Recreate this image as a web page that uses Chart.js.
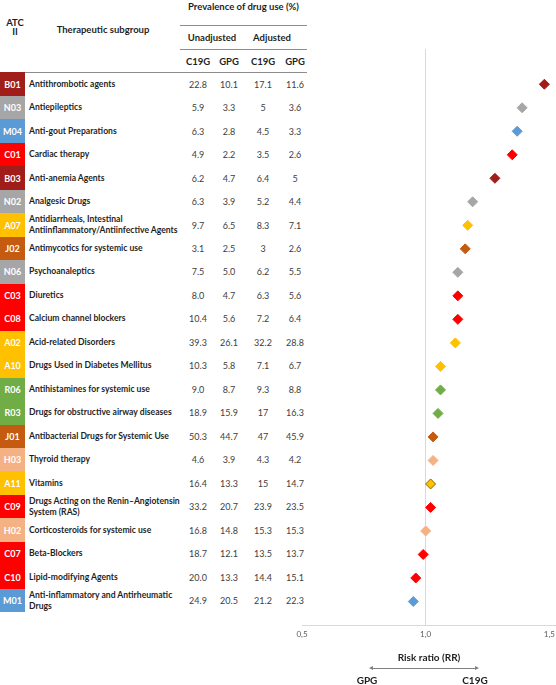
<!DOCTYPE html>
<html>
<head>
<meta charset="utf-8">
<script src="https://cdn.jsdelivr.net/npm/chart.js"></script>
<style>
  body { margin: 0; width: 556px; height: 685px; position: relative; background: #fff; overflow: hidden;
         font-family: Lato, "Open Sans", sans-serif; color: #1f1f1f; }
  .abs { position: absolute; }
  .hd { position: absolute; font-weight: bold; font-size: 9.5px; text-align: center; white-space: nowrap; }
  .line { position: absolute; height: 0; border-top: 1px solid #8c8c8c; }
  .row { position: absolute; left: 0; width: 310px; }
  .code { position: absolute; left: 0; top: 0; width: 25px; height: 100%; color: #fff; font-weight: bold;
          font-size: 9px; display: flex; align-items: center; justify-content: center; }
  .name { position: absolute; left: 29px; top: 0; height: 100%; display: flex; align-items: center;
          font-weight: bold; font-size: 8.6px; line-height: 11px; white-space: pre; }
  .val { position: absolute; top: 0; width: 34px; height: 100%; display: flex; align-items: center;
         justify-content: center; font-size: 9px; color: #404040; }
  #chartBox { position: absolute; left: 290px; top: 43px; width: 272px; height: 642px; }
</style>
</head>
<body>
<div class="hd" style="left:0;width:30px;top:18px;line-height:9px;">ATC<br>II</div>
<div class="hd" style="left:43px;width:120px;top:24px;">Therapeutic subgroup</div>
<div class="hd" style="left:180px;width:127px;top:1px;">Prevalence of drug use (%)</div>
<div class="line" style="left:180px;width:127px;top:25px;"></div>
<div class="hd" style="left:182px;width:60px;top:32px;">Unadjusted</div>
<div class="hd" style="left:244px;width:56px;top:32px;">Adjusted</div>
<div class="line" style="left:180px;width:127px;top:49px;"></div>
<div class="hd" style="left:181px;width:34px;top:56px;">C19G</div>
<div class="hd" style="left:212px;width:34px;top:56px;">GPG</div>
<div class="hd" style="left:246px;width:34px;top:56px;">C19G</div>
<div class="hd" style="left:278px;width:34px;top:56px;">GPG</div>
<div class="line" style="left:0;width:307px;top:72px;"></div>

<div id="table"></div>

<div id="chartBox"><canvas id="forest"></canvas></div>

<!-- pil under axeln -->
<div class="line" style="left:372px;width:104px;top:668px;border-top-color:#7f7f7f;"></div>
<div class="abs" style="left:369px;top:666px;width:0;height:0;border-top:2px solid transparent;border-bottom:2px solid transparent;border-right:4px solid #7f7f7f;"></div>
<div class="abs" style="left:475px;top:666px;width:0;height:0;border-top:2px solid transparent;border-bottom:2px solid transparent;border-left:4px solid #7f7f7f;"></div>
<div class="hd" style="left:347px;width:40px;top:674px;font-size:10px;">GPG</div>
<div class="hd" style="left:455px;width:40px;top:674px;font-size:10px;">C19G</div>

<script>
"use strict";

// ATC-koder och terapeutiska undergrupper
const atcCodes = ['B01', 'N03', 'M04', 'C01', 'B03', 'N02', 'A07', 'J02', 'N06', 'C03', 'C08', 'A02',
  'A10', 'R06', 'R03', 'J01', 'H03', 'A11', 'C09', 'H02', 'C07', 'C10', 'M01'];
const subgroups = [
  'Antithrombotic agents', 'Antiepileptics', 'Anti-gout Preparations', 'Cardiac therapy',
  'Anti-anemia Agents', 'Analgesic Drugs',
  'Antidiarrheals, Intestinal\nAntiinflammatory/Antiinfective Agents',
  'Antimycotics for systemic use', 'Psychoanaleptics', 'Diuretics', 'Calcium channel blockers',
  'Acid-related Disorders', 'Drugs Used in Diabetes Mellitus', 'Antihistamines for systemic use',
  'Drugs for obstructive airway diseases', 'Antibacterial Drugs for Systemic Use', 'Thyroid therapy',
  'Vitamins', 'Drugs Acting on the Renin\u2013Angiotensin\nSystem (RAS)', 'Corticosteroids for systemic use',
  'Beta-Blockers', 'Lipid-modifying Agents', 'Anti-inflammatory and Antirheumatic\nDrugs'
];

// Prevalens (%)
const unadjC19G = [22.8, 5.9, 6.3, 4.9, 6.2, 6.3, 9.7, 3.1, 7.5, 8.0, 10.4, 39.3, 10.3, 9.0, 18.9, 50.3, 4.6, 16.4, 33.2, 16.8, 18.7, 20.0, 24.9];
const unadjGPG = [10.1, 3.3, 2.8, 2.2, 4.7, 3.9, 6.5, 2.5, 5.0, 4.7, 5.6, 26.1, 5.8, 8.7, 15.9, 44.7, 3.9, 13.3, 20.7, 14.8, 12.1, 13.3, 20.5];
const adjC19G = [17.1, 5, 4.5, 3.5, 6.4, 5.2, 8.3, 3, 6.2, 6.3, 7.2, 32.2, 7.1, 9.3, 17, 47, 4.3, 15, 23.9, 15.3, 13.5, 14.4, 21.2];
const adjGPG = [11.6, 3.6, 3.3, 2.6, 5, 4.4, 7.1, 2.6, 5.5, 5.6, 6.4, 28.8, 6.7, 8.8, 16.3, 45.9, 4.2, 14.7, 23.5, 15.3, 13.7, 15.1, 22.3];

// Riskkvot (RR) per grupp
const riskRatio = [1.48, 1.39, 1.37, 1.35, 1.28, 1.19, 1.17, 1.16, 1.13, 1.13, 1.13, 1.12, 1.06, 1.06, 1.05, 1.03, 1.03, 1.02, 1.02, 1.00, 0.99, 0.96, 0.95];

// Tick-etiketter för x-axeln
const xTicks = [0.5, 1.0, 1.5];

// Färger per ATC-huvudgrupp
const groupColors = {
  B: '#a11d19', N: '#a6a6a6', M: '#5b9bd5', C: '#ff0000',
  A: '#ffc000', J: '#c55a11', R: '#70ad47', H: '#f4b183'
};

const Y_MIN = -1.5, Y_MAX = 23;
const AREA_TOP = 49, AREA_BOTTOM = 624;
const ROW_H = (AREA_BOTTOM - AREA_TOP) / (Y_MAX - Y_MIN);

// Bygg tabellen till vänster
function buildTable() {
  const table = document.getElementById('table');
  const cols = [unadjC19G.map(v => v.toFixed(1)), unadjGPG.map(v => v.toFixed(1)),
    adjC19G.map(v => String(v)), adjGPG.map(v => String(v))];
  const colX = [198, 229, 263, 295];

  atcCodes.forEach((code, i) => {
    const row = document.createElement('div');
    row.className = 'row';
    row.style.top = (AREA_TOP + (i - Y_MIN) * ROW_H - ROW_H / 2) + 'px';
    row.style.height = ROW_H + 'px';

    const c = document.createElement('div');
    c.className = 'code';
    c.style.background = groupColors[code[0]];
    c.textContent = code;
    row.appendChild(c);

    const n = document.createElement('div');
    n.className = 'name';
    n.textContent = subgroups[i];
    row.appendChild(n);

    cols.forEach((col, k) => {
      const v = document.createElement('div');
      v.className = 'val';
      v.style.left = (colX[k] - 17) + 'px';
      v.textContent = col[i];
      row.appendChild(v);
    });
    table.appendChild(row);
  });
}

// Rita forest plot med riskkvoter
function drawForest() {
  const ctx = document.getElementById('forest');
  const fills = atcCodes.map(c => groupColors[c[0]]);
  const borders = atcCodes.map((c, i) => c === 'A11' ? '#8a6400' : fills[i]);

  new Chart(ctx, {
    type: 'scatter',
    data: {
      datasets: [{
        data: riskRatio.map((rr, i) => ({ x: rr, y: i })),
        pointStyle: 'rectRot',
        pointRadius: 5,
        backgroundColor: fills,
        borderColor: borders,
        borderWidth: 1
      }]
    },
    options: {
      responsive: true,
      maintainAspectRatio: false,
      animation: false,
      layout: { padding: { left: 12, top: 4, right: 0, bottom: 21.4 } },
      plugins: { legend: { display: false }, tooltip: { enabled: false } },
      scales: {
        x: {
          type: 'linear',
          min: 0.5,
          max: 1.527,
          afterBuildTicks: scale => { scale.ticks = xTicks.map(v => ({ value: v })); },
          ticks: {
            callback: v => v.toFixed(1).replace('.', ','),
            font: { family: 'Lato', size: 8 },
            color: '#595959',
            padding: 5,
            maxRotation: 0
          },
          grid: {
            drawTicks: false,
            color: c => (c.tick && c.tick.value === 1) ? '#d9d9d9' : 'rgba(0,0,0,0)'
          },
          border: { color: '#d9d9d9' },
          title: {
            display: true,
            text: 'Risk ratio (RR)',
            font: { family: 'Lato', size: 10, weight: 'bold' },
            color: '#1f1f1f',
            padding: { top: 7, bottom: 0 }
          }
        },
        y: {
          type: 'linear',
          reverse: true,
          min: Y_MIN,
          max: Y_MAX,
          display: false
        }
      }
    }
  });
}

buildTable();
drawForest();
</script>
</body>
</html>
